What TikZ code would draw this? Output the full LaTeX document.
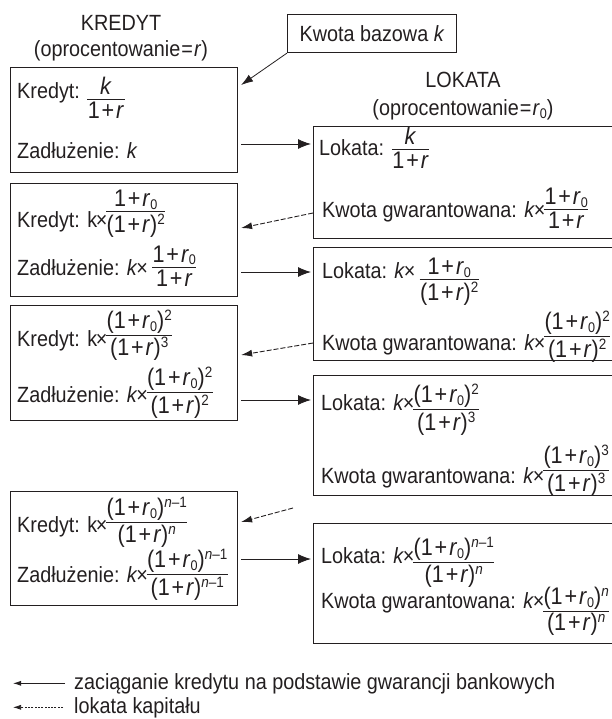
\documentclass[tikz,border=0pt]{standalone}
\usepackage{fontspec}
\setmainfont{Liberation Sans}[FakeStretch=0.9]
\usetikzlibrary{arrows.meta,calc}
\definecolor{ink}{HTML}{231F20}
% compact fraction: numerator sits just above the bar, denominator just below;
% the reference point of the result is the lower edge of the bar
\newsavebox\numbox
\newsavebox\denbox
\newlength\fracwd
\newcommand\frc[2]{%
  \sbox\numbox{\fontsize{24}{24}\selectfont #1}%
  \sbox\denbox{\fontsize{24}{24}\selectfont #2}%
  \setlength\fracwd{\wd\numbox}%
  \ifdim\wd\denbox>\fracwd \setlength\fracwd{\wd\denbox}\fi
  \addtolength\fracwd{1pt}%
  \hbox{\vbox{\hbox to\fracwd{\hss\usebox\numbox\hss}\kern1.6pt
              \hrule height1pt depth0pt width\fracwd}%
        \kern-\fracwd
        \vtop{\kern1.8pt\hbox to\fracwd{\hss\usebox\denbox\hss}}}}
\newcommand\rvar{\textit{r}}
\newcommand\rnull{\textit{r}\raisebox{-0.12em}{\fontsize{14}{14}\selectfont 0}}
\newcommand\kvar{\textit{k}}
% lone k over a fraction bar, kept a little clear of the bar
\newcommand\knum{\rule[-3pt]{0pt}{3pt}\textit{k}}
\newcommand\pls{\hspace{0.08em}+\hspace{0.08em}}
\newcommand\tms{\hspace{-0.06em}×\hspace{-0.06em}}
\newcommand\expo[1]{\raisebox{0.33em}{\fontsize{15}{15}\selectfont #1}}
\newcommand\lift[2]{\raisebox{#1}{#2}}
\begin{document}
\begin{tikzpicture}[x=1pt,y=-1pt,
  font={\fontsize{22}{26}\selectfont},
  box/.style={draw=ink,line width=1.1pt,inner sep=0pt,anchor=north west},
  txt/.style={anchor=base west,inner sep=0pt,text=ink},
  head/.style={anchor=base,inner sep=0pt,text=ink},
  sol/.style={draw=ink,line width=0.9pt,-{Latex[length=13pt,width=10pt]}},
  dsh/.style={draw=ink,line width=0.9pt,dash pattern=on 5pt off 2pt,-{Latex[length=11pt,width=7pt]}},
  legsol/.style={draw=ink,line width=0.8pt,-{Latex[length=8pt,width=5pt]}},
  legdsh/.style={draw=ink,line width=0.7pt,dash pattern=on 2pt off 1.3pt,-{Latex[length=8pt,width=5pt]}}]
\useasboundingbox (0,0) rectangle (612,719);
\clip (0,0) rectangle (612,719);

% column headings
\node[head] (hk1) at (121,31) {KREDYT};
\node[head] (hk2) at (121,57) {(oprocentowanie\hspace{0.05em}=\hspace{0.05em}\rvar)};
\node[head] (hl1) at (463,88) {LOKATA};
\node[head] (hl2) at (463,116) {(oprocentowanie\hspace{0.05em}=\hspace{0.05em}\rnull)};

% base amount
\node[box,minimum width=169pt,minimum height=38pt,text=ink] (KB) at (287,14) {Kwota bazowa \kvar};

% credit column
\node[box,minimum width=227pt,minimum height=105pt] (L1) at (10,67) {};
\node[box,minimum width=227pt,minimum height=113pt] (L2) at (10,183) {};
\node[box,minimum width=227pt,minimum height=115pt] (L3) at (10,305) {};
\node[box,minimum width=227pt,minimum height=114pt] (L4) at (10,491) {};

% deposit column (open to the right)
\node[box,minimum width=310pt,minimum height=112pt] (R1) at (313,126) {};
\node[box,minimum width=310pt,minimum height=113pt] (R2) at (313,247) {};
\node[box,minimum width=310pt,minimum height=120pt] (R3) at (313,375) {};
\node[box,minimum width=310pt,minimum height=120pt] (R4) at (313,523) {};

% credit lines
\node[txt] (k1) at (17,99) {Kredyt: \lift{-1pt}{\frc{\knum}{1\pls\rvar}}};
\node[txt] (z1) at (17,159) {Zadłużenie: \kvar};
\node[txt] (k2) at (17,227) {Kredyt: k\tms\lift{14.6pt}{\frc{1\pls\rnull}{(1\pls\rvar)\expo{2}}}};
\node[txt] (z2) at (17,275) {Zadłużenie: \kvar\tms\ \lift{7.3pt}{\frc{1\pls\rnull}{1\pls\rvar}}};
\node[txt] (k3) at (17,346) {Kredyt: k\tms\lift{10.3pt}{\frc{(1\pls\rnull)\expo{2}}{(1\pls\rvar)\expo{3}}}};
\node[txt] (z3) at (17,402) {Zadłużenie: \kvar\tms\lift{9pt}{\frc{(1\pls\rnull)\expo{2}}{(1\pls\rvar)\expo{2}}}};
\node[txt] (k4) at (17,532) {Kredyt: k\tms\lift{9pt}{\frc{(1\pls\rnull)\expo{\textit{n}–1}}{(1\pls\rvar)\expo{\textit{n}}}}};
\node[txt] (z4) at (17,582) {Zadłużenie: \kvar\tms\lift{6.7pt}{\frc{(1\pls\rnull)\expo{\textit{n}–1}}{(1\pls\rvar)\expo{\textit{n}–1}}}};

% deposit lines
\node[txt] (l1) at (319,156) {Lokata:\hspace{0.35em}\lift{6pt}{\frc{\knum}{1\pls\rvar}}};
\node[txt] (g1) at (322,218) {Kwota gwarantowana: \kvar\tms\lift{8pt}{\frc{1\pls\rnull}{1\pls\rvar}}};
\node[txt] (l2) at (322,278) {Lokata: \kvar\tms\ \lift{-2pt}{\frc{1\pls\rnull}{(1\pls\rvar)\expo{2}}}};
\node[txt] (g2) at (322,350) {Kwota gwarantowana: \kvar\tms\lift{13pt}{\frc{(1\pls\rnull)\expo{2}}{(1\pls\rvar)\expo{2}}}};
\node[txt] (l3) at (321,410) {Lokata: \kvar\tms\lift{0pt}{\frc{(1\pls\rnull)\expo{2}}{(1\pls\rvar)\expo{3}}}};
\node[txt] (g3) at (321,483) {Kwota gwarantowana: \kvar\tms\lift{12pt}{\frc{(1\pls\rnull)\expo{3}}{(1\pls\rvar)\expo{3}}}};
\node[txt] (l4) at (321,563) {Lokata: \kvar\tms\lift{0pt}{\frc{(1\pls\rnull)\expo{\textit{n}–1}}{(1\pls\rvar)\expo{\textit{n}}}}};
\node[txt] (g4) at (321,608) {Kwota gwarantowana: \kvar\tms\lift{-3.7pt}{\frc{(1\pls\rnull)\expo{\textit{n}}}{(1\pls\rvar)\expo{\textit{n}}}}};

% taking the credit: solid arrows into the deposit column
\coordinate (a1) at ([yshift=-77pt]L1.north east);
\coordinate (a2) at ([yshift=-89pt]L2.north east);
\coordinate (a3) at ([yshift=-95pt]L3.north east);
\coordinate (a4) at ([yshift=-68pt]L4.north east);
\draw[sol,shorten <=3pt,shorten >=2pt] (a1) -- (a1 -| R1.west);
\draw[sol,shorten <=3pt,shorten >=2pt] (a2) -- (a2 -| R2.west);
\draw[sol,shorten <=3pt,shorten >=2pt] (a3) -- (a3 -| R3.west);
\draw[sol,shorten <=3pt,shorten >=2pt] (a4) -- (a4 -| R4.west);

% base amount into the first credit
\draw[sol,line width=0.8pt,-{Latex[length=12pt,width=8pt]}] (KB.south west) -- ([xshift=3pt,yshift=-18pt]L1.north east);

% deposits: dashed arrows back into the credit column
\draw[dsh] ([yshift=-87pt]R1.north west) -- ([xshift=3pt,yshift=-45pt]L2.north east);
\draw[dsh] ([yshift=-96pt]R2.north west) -- ([xshift=3pt,yshift=-50pt]L3.north east);
\coordinate (dots) at (293,508);
\draw[dsh] (dots) -- ([xshift=3pt,yshift=-31pt]L4.north east);

% legend
\node[txt] (lg1) at (74,689) {zaciąganie kredytu na podstawie gwarancji bankowych};
\node[txt] (lg2) at (74,713) {lokata kapitału};
\draw[legsol] ([xshift=-9pt]lg1.west) -- ([xshift=-61pt]lg1.west);
\draw[legdsh] ([xshift=-11pt]lg2.west) -- ([xshift=-61pt]lg2.west);
\end{tikzpicture}
\end{document}
